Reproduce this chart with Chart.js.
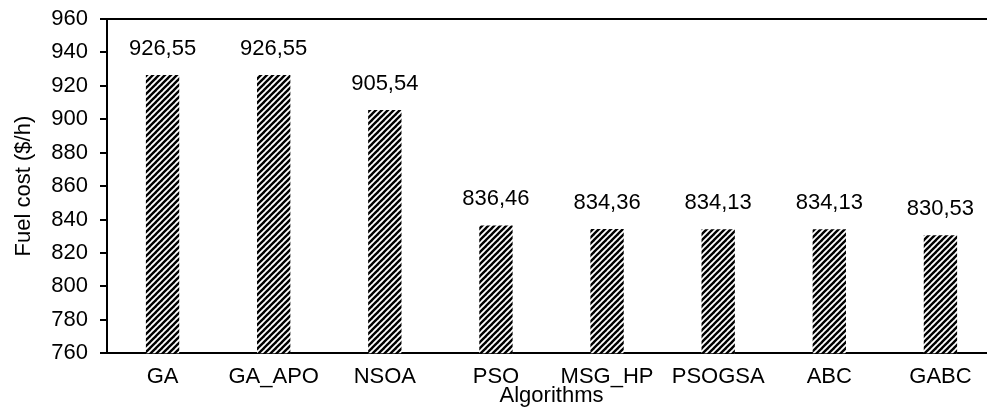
<!DOCTYPE html>
<html>
<head>
<meta charset="utf-8">
<script src="https://cdn.jsdelivr.net/npm/chart.js@4"></script>
<style>
  html, body { margin: 0; padding: 0; background: #fff; overflow: hidden; }
  /* plot runs a little past the right edge, as in the original */
  #wrap { width: 996px; height: 417px; }
</style>
</head>
<body>
<div id="wrap"><canvas id="fuelChart"></canvas></div>
<script>
const algorithms = ["GA", "GA_APO", "NSOA", "PSO", "MSG_HP", "PSOGSA", "ABC", "GABC"];
const fuelCost = [926.55, 926.55, 905.54, 836.46, 834.36, 834.13, 834.13, 830.53];
const yTicks = [760, 780, 800, 820, 840, 860, 880, 900, 920, 940, 960];

const FONT = "'Liberation Sans', Arial, sans-serif";

// black/white "wide upward diagonal" fill
const makeHatch = () => {
  const s = 6;
  const c = document.createElement("canvas");
  c.width = s;
  c.height = s;
  const g = c.getContext("2d");
  g.fillStyle = "#fff";
  g.fillRect(0, 0, s, s);
  g.strokeStyle = "#000";
  g.lineWidth = 2.4;
  [-s, 0, s].forEach((off) => {
    g.beginPath();
    g.moveTo(off - 1, s + 1);
    g.lineTo(off + s + 1, -1);
    g.stroke();
  });
  return g.createPattern(c, "repeat");
};

// value labels above bars, comma decimals
const barLabels = {
  id: "barLabels",
  afterDatasetsDraw(chart) {
    const { ctx } = chart;
    const meta = chart.getDatasetMeta(0);
    ctx.save();
    ctx.font = "22px " + FONT;
    ctx.fillStyle = "#000";
    ctx.textAlign = "center";
    ctx.textBaseline = "middle";
    meta.data.forEach((bar, i) => {
      const txt = fuelCost[i].toFixed(2).replace(".", ",");
      ctx.fillText(txt, bar.x, bar.y - 26);
    });
    ctx.restore();
  },
};

const chart = new Chart(document.getElementById("fuelChart").getContext("2d"), {
  type: "bar",
  data: {
    labels: algorithms,
    datasets: [
      {
        data: fuelCost,
        backgroundColor: makeHatch(),
        borderWidth: 0,
        barPercentage: 0.3,
        categoryPercentage: 1,
      },
    ],
  },
  options: {
    responsive: true,
    maintainAspectRatio: false,
    animation: false,
    layout: { padding: { top: 19, right: 0, left: 0, bottom: 8 } },
    plugins: {
      legend: { display: false },
      tooltip: { enabled: false },
    },
    scales: {
      x: {
        grid: { display: false },
        border: { color: "#000", width: 2 },
        ticks: { color: "#000", font: { family: FONT, size: 22 }, padding: 3, maxRotation: 0, autoSkip: false },
        title: {
          display: true,
          text: "Algorithms",
          color: "#000",
          font: { family: FONT, size: 22 },
          padding: { top: -11, bottom: 0 },
        },
      },
      y: {
        min: 760,
        max: 960,
        afterBuildTicks: (axis) => {
          axis.ticks = yTicks.map((v) => ({ value: v }));
        },
        afterFit: (axis) => {
          axis.width = 107;
          axis.paddingTop = 0;
          axis.paddingBottom = 0;
        },
        grid: {
          drawOnChartArea: true,
          color: (c) => (c.tick && c.tick.value === 960 ? "#000" : "rgba(0,0,0,0)"),
          lineWidth: 2,
          tickColor: "#000",
          tickLength: 7,
        },
        border: { color: "#000", width: 2 },
        ticks: { color: "#000", font: { family: FONT, size: 22 }, padding: 12 },
        title: {
          display: true,
          text: "Fuel cost ($/h)",
          color: "#000",
          font: { family: FONT, size: 22 },
          padding: { top: 11, bottom: 4 },
        },
      },
    },
  },
  plugins: [barLabels],
});
</script>
</body>
</html>
